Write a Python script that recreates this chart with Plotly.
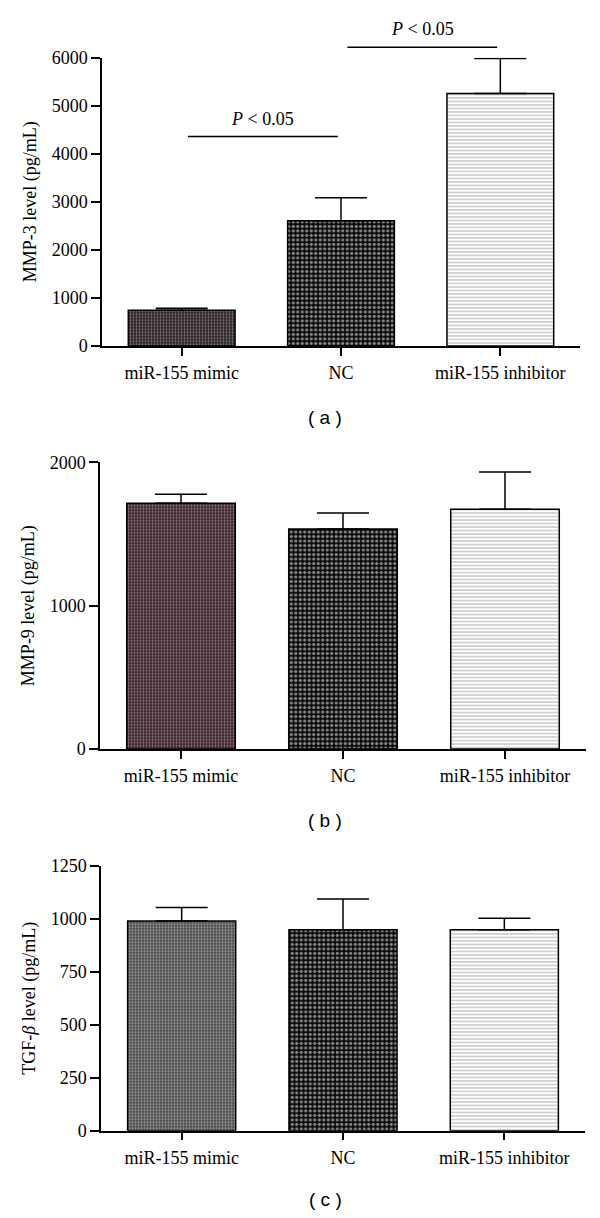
import plotly.graph_objects as go

# ---------------- data ----------------
groups = ["miR-155 mimic", "NC", "miR-155 inhibitor"]

mmp3 = [745, 2605, 5255]
mmp3_err = [42, 478, 730]

mmp9 = [1714, 1535, 1672]
mmp9_err = [63, 112, 261]

tgfb = [989, 948, 948]
tgfb_err = [64, 145, 54]

mmp3_ticks = [0, 1000, 2000, 3000, 4000, 5000, 6000]
mmp9_ticks = [0, 1000, 2000]
tgfb_ticks = [0, 250, 500, 750, 1000, 1250]

# significance brackets for panel (a): (from group, to group, bracket level)
sig_pairs = [(0, 1, 4360), (1, 2, 6220)]
sig_text = "<i>P</i> &lt; 0.05"

panel_labels = ["( a )", "( b )", "( c )"]

# ---------------- layout helpers ----------------
PAGE_W, PAGE_H = 600, 1218
BODY = 8  # default page body margin
W, H = PAGE_W - 2 * BODY, PAGE_H - 2 * BODY
SERIF = "Liberation Serif"
SANS = "Liberation Sans"
FS = 18


def xdom(a, b):
    return [(a - BODY) / W, (b - BODY) / W]


def ydom(top, bottom):
    return [1 - (bottom - BODY) / H, 1 - (top - BODY) / H]


panels = [
    dict(vals=mmp3, errs=mmp3_err, ticks=mmp3_ticks, ymax=6000,
         title="MMP-3 level (pg/mL)", xd=(102, 580), yd=(57.7, 346), label_y=418,
         mimic=dict(shape=".", fgcolor="#e6e2e3", bgcolor="#2c2225", size=3, solidity=0.3)),
    dict(vals=mmp9, errs=mmp9_err, ticks=mmp9_ticks, ymax=2000,
         title="MMP-9 level (pg/mL)", xd=(100, 586), yd=(462.3, 749), label_y=820,
         mimic=dict(shape=".", fgcolor="#ece6e8", bgcolor="#3a2028", size=3, solidity=0.36)),
    dict(vals=tgfb, errs=tgfb_err, ticks=tgfb_ticks, ymax=1250,
         title="TGF-<i>β</i> level (pg/mL)", xd=(101, 585), yd=(865.7, 1130.7), label_y=1199,
         mimic=dict(shape=".", fgcolor="#f4f4f4", bgcolor="#4a4a4a", size=3, solidity=0.42)),
]

nc_pattern = dict(shape=".", fgcolor="#ffffff", bgcolor="#0a0a0a", size=4.5, solidity=0.42)
inh_pattern = dict(shape="-", fgcolor="#7a7a7a", bgcolor="#ffffff", size=3.5, solidity=0.35)

fig = go.Figure()
layout = dict(
    width=W, height=H,
    margin=dict(l=0, r=0, t=0, b=0),
    paper_bgcolor="white", plot_bgcolor="white",
    showlegend=False,
    font=dict(family=SERIF, size=FS, color="black"),
)

annotations = []
shapes = []

for i, p in enumerate(panels):
    n = "" if i == 0 else str(i + 1)
    xa, ya = "x" + n, "y" + n
    patterns = [p["mimic"], nc_pattern, inh_pattern]
    for j, g in enumerate(groups):
        fig.add_trace(go.Bar(
            x=[g], y=[p["vals"][j]],
            xaxis=xa, yaxis=ya,
            width=0.67,
            marker=dict(color="white", line=dict(color="black", width=1.5),
                        pattern=patterns[j]),
            error_y=dict(type="data", symmetric=False, array=[p["errs"][j]],
                         arrayminus=[0], color="black", thickness=1.5, width=26),
        ))
    layout["xaxis" + n] = dict(
        domain=xdom(*p["xd"]), anchor=ya, automargin=False,
        type="category", categoryorder="array", categoryarray=groups,
        range=[-0.5, 2.5], showline=True, linecolor="black", linewidth=1.5,
        ticks="outside", ticklen=8, tickwidth=1.5, tickcolor="black",
        showgrid=False, zeroline=False, fixedrange=True,
        tickfont=dict(family=SERIF, size=FS), ticklabelstandoff=2,
    )
    layout["yaxis" + n] = dict(
        domain=ydom(*p["yd"]), anchor=xa, automargin=False,
        range=[0, p["ymax"]], tickvals=p["ticks"], ticktext=[str(t) for t in p["ticks"]],
        showline=True, linecolor="black", linewidth=1.5,
        ticks="outside", ticklen=9, tickwidth=1.5, tickcolor="black",
        showgrid=False, zeroline=False, fixedrange=True,
        tickfont=dict(family=SERIF, size=FS),
        title=dict(text=p["title"], font=dict(family=SERIF, size=FS), standoff=10),
    )
    annotations.append(dict(
        text=panel_labels[i], xref="paper", yref="paper",
        x=(325 - BODY) / W, y=1 - (p["label_y"] - BODY) / H,
        xanchor="center", yanchor="middle", showarrow=False,
        font=dict(family=SANS, size=19, color="black"),
    ))

# significance brackets on panel (a) -- mapped through panel (a)'s data scale
pa = panels[0]
yd0, yd1 = ydom(*pa["yd"])


def yfrac(v):
    return yd0 + (v / pa["ymax"]) * (yd1 - yd0)


def xfrac(c):
    return (c + 0.5) / 3.0


for a, b, lvl in sig_pairs:
    shapes.append(dict(type="line", xref="x domain", yref="paper",
                       x0=xfrac(a + 0.04), x1=xfrac(b - 0.02), y0=yfrac(lvl), y1=yfrac(lvl),
                       line=dict(color="black", width=1.5)))
    annotations.append(dict(text=sig_text, xref="x domain", yref="paper",
                            x=xfrac((a + b) / 2 + 0.01), y=yfrac(lvl), yshift=6,
                            xanchor="center", yanchor="bottom", showarrow=False,
                            font=dict(family=SERIF, size=FS, color="black")))

layout["annotations"] = annotations
layout["shapes"] = shapes
fig.update_layout(**layout)
fig.write_html("out.html")
